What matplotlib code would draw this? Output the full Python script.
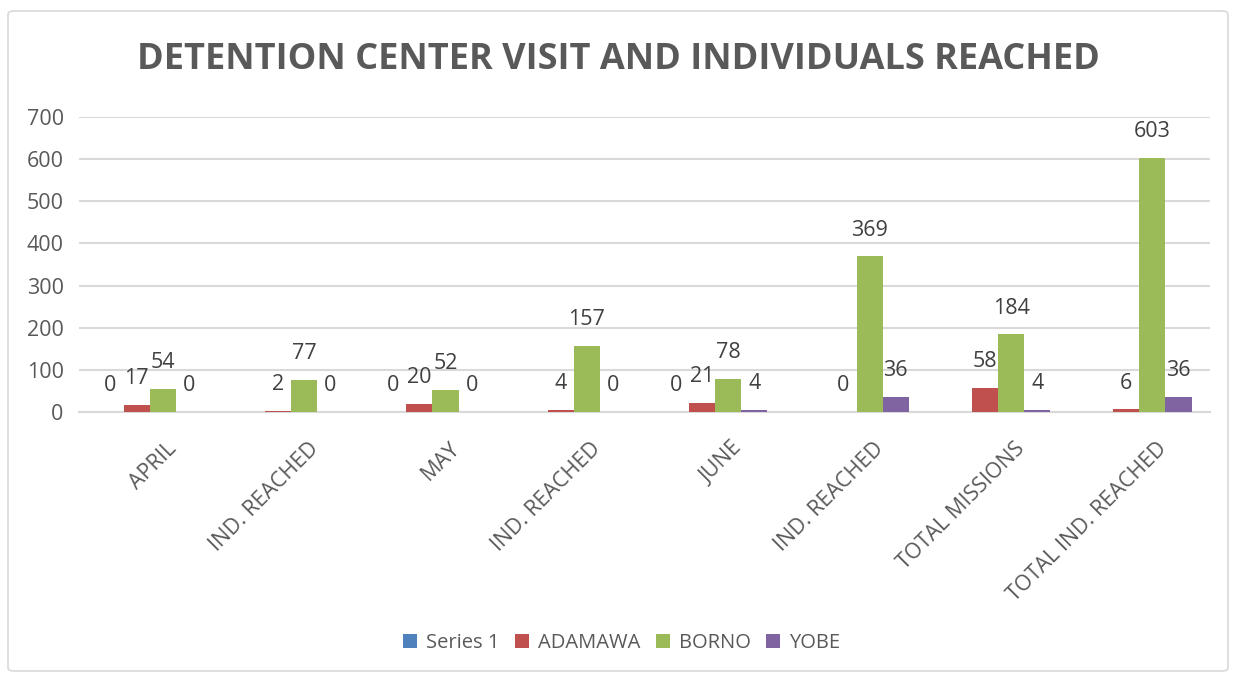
import numpy as np
import matplotlib
matplotlib.use("Agg")
import matplotlib.pyplot as plt
import matplotlib.transforms as mtransforms
from matplotlib.patches import FancyBboxPatch

categories = ["APRIL", "IND. REACHED", "MAY", "IND. REACHED", "JUNE",
              "IND. REACHED", "TOTAL MISSIONS", "TOTAL IND. REACHED"]
series_names = ["Series 1", "ADAMAWA", "BORNO", "YOBE"]
series1 = [0, None, 0, None, 0, None, None, None]
adamawa = [17, 2, 20, 4, 21, 0, 58, 6]
borno = [54, 77, 52, 157, 78, 369, 184, 603]
yobe = [0, 0, 0, 0, 4, 36, 4, 36]
colors = ["#4F81BD", "#C0504D", "#9BBB59", "#8064A2"]
y_ticks = [0, 100, 200, 300, 400, 500, 600, 700]

plt.rcParams['font.family'] = ['Open Sans', 'DejaVu Sans']
txt = "#595959"

fig = plt.figure(figsize=(12.36, 6.79), dpi=100)
# outer border
fig.patches.append(FancyBboxPatch((8/1236, 8/679), 1220/1236, 660/679,
                                  boxstyle="round,pad=0,rounding_size=0.005",
                                  transform=fig.transFigure, fill=False,
                                  edgecolor="#D9D9D9", linewidth=1.2))
ax = fig.add_axes([79/1236, 1-412/679, (1210-79)/1236, (412-117)/679])

x = np.arange(len(categories))
w = 0.185
all_series = [series1, adamawa, borno, yobe]
for i, (name, vals, c) in enumerate(zip(series_names, all_series, colors)):
    pos = x + (i - 1.5) * w
    h = [np.nan if v is None else v for v in vals]
    ax.bar(pos, h, width=w, color=c, label=name, zorder=3)
    for p, v in zip(pos, vals):
        if v is None:
            continue
        ax.annotate(str(v), (p, v), xytext=(0, 19), textcoords="offset points",
                    ha="center", va="center", fontsize=15.5, color="#404040")

ax.set_ylim(0, 700)
ax.set_xlim(-0.5, len(categories) - 0.5)
ax.set_yticks(y_ticks)
ax.set_yticklabels([str(t) for t in y_ticks], fontsize=15.5, color=txt)
ax.tick_params(axis='y', length=0, pad=11)
ax.set_xticks(x)
ax.set_xticklabels(categories, rotation=45, ha='right', va='center',
                   rotation_mode='anchor', fontsize=15.5, color=txt)
ax.tick_params(axis='x', length=0, pad=22)
shift = mtransforms.ScaledTranslation(24/100, -3/100, fig.dpi_scale_trans)
for lab in ax.get_xticklabels():
    lab.set_transform(lab.get_transform() + shift)
ax.grid(axis='y', color="#D9D9D9", linewidth=1.5, zorder=0)
for s in ['top', 'right', 'left']:
    ax.spines[s].set_visible(False)
ax.spines['bottom'].set_color("#D9D9D9")
ax.spines['bottom'].set_linewidth(1.5)

fig.text(0.5, 1-60/679, "DETENTION CENTER VISIT AND INDIVIDUALS REACHED",
         ha='center', va='center', fontsize=26, fontweight='bold', color=txt)

leg = fig.legend(loc='center', bbox_to_anchor=(0.503, 1-643/679), ncol=4,
                 frameon=False, fontsize=14.5, handlelength=0.7, handleheight=0.7,
                 handletextpad=0.45, columnspacing=0.75)
for t in leg.get_texts():
    t.set_color(txt)

fig.savefig("out.png", dpi=100)
